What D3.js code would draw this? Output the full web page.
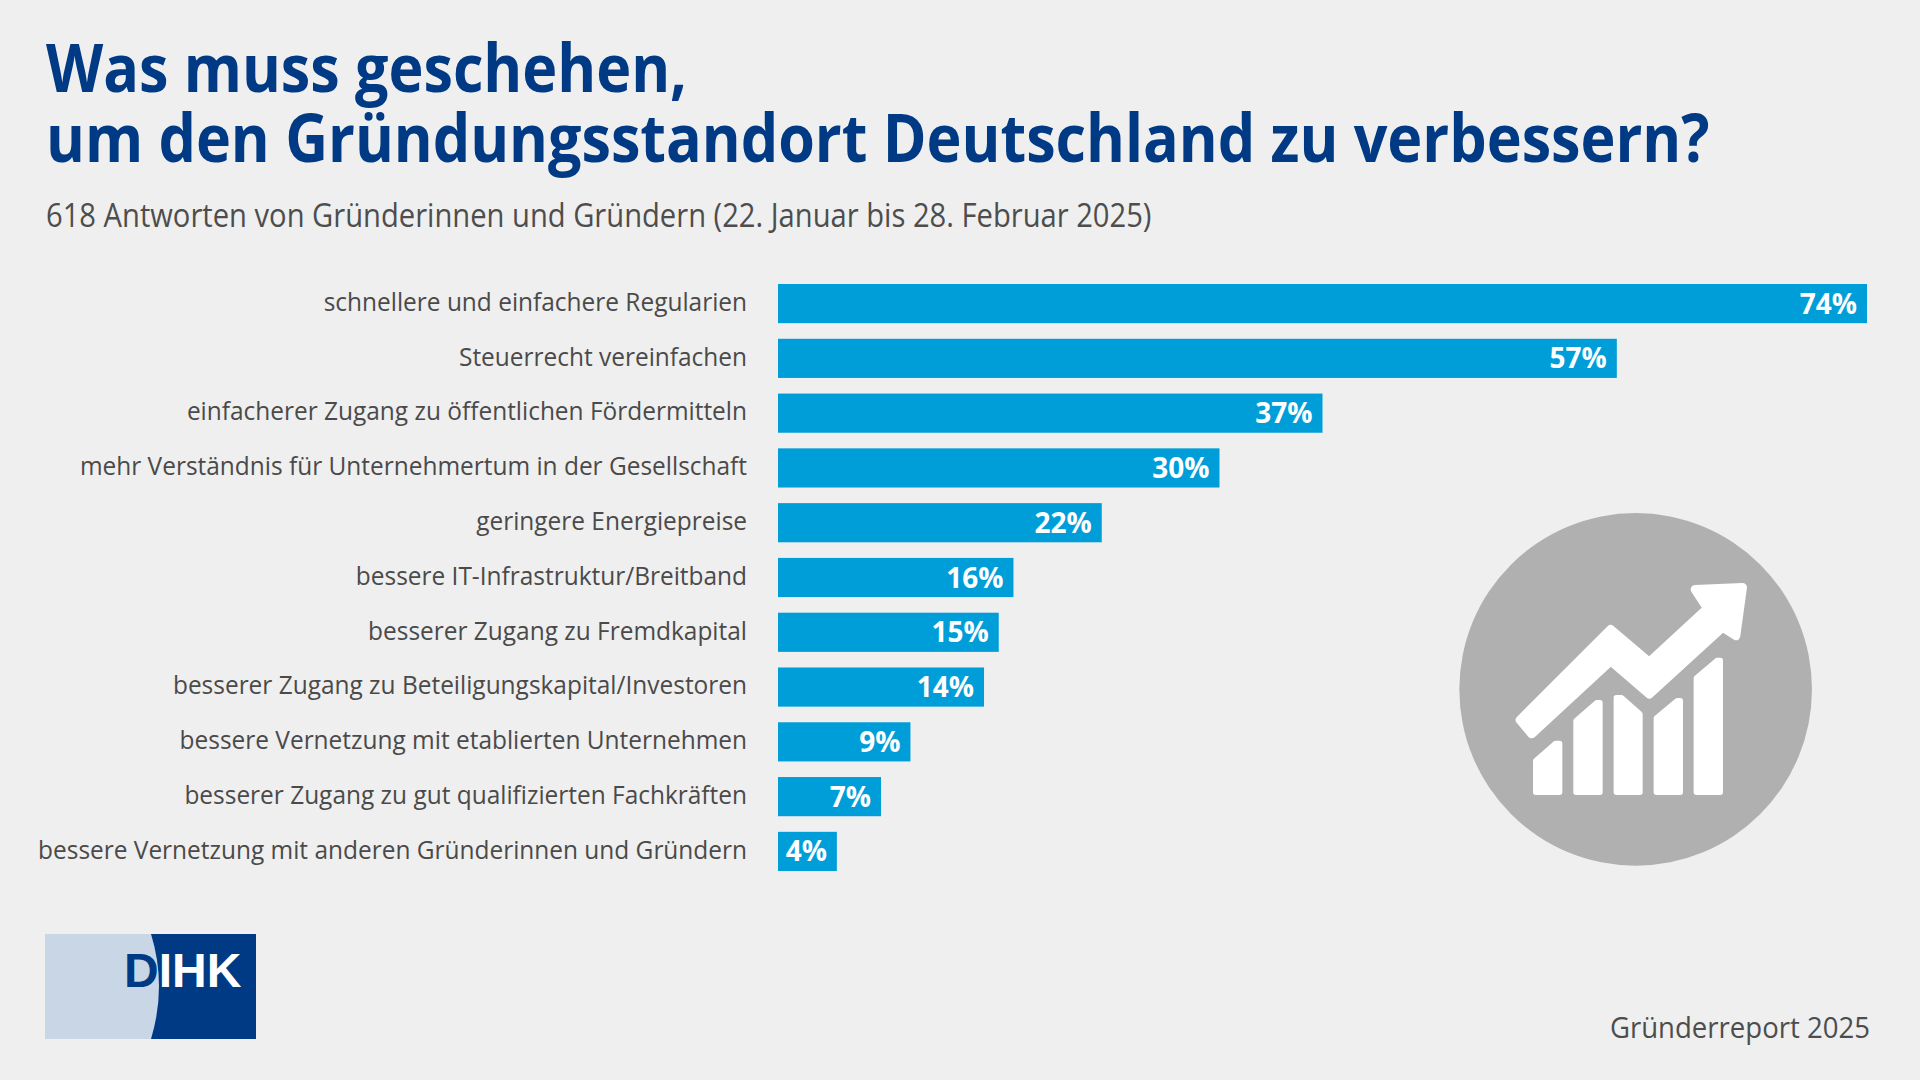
<!DOCTYPE html>
<html lang="de">
<head>
<meta charset="utf-8">
<script src="https://cdn.jsdelivr.net/npm/d3@7"></script>
<style>
  html, body { margin: 0; padding: 0; background: #efefef; }
  text { font-family: "Open Sans", sans-serif; }
  .title { font-size: 66px; font-weight: 700; fill: #003a84; }
  .subtitle { font-size: 32px; fill: #4d4d4d; }
  .axis text { font-size: 26px; fill: #4a4a4a; }
  .value { font-size: 28px; font-weight: 700; fill: #fff; }
  .source { font-size: 29px; fill: #4d4d4d; }
</style>
</head>
<body>
<script>
var categories = [
  "schnellere und einfachere Regularien",
  "Steuerrecht vereinfachen",
  "einfacherer Zugang zu öffentlichen Fördermitteln",
  "mehr Verständnis für Unternehmertum in der Gesellschaft",
  "geringere Energiepreise",
  "bessere IT-Infrastruktur/Breitband",
  "besserer Zugang zu Fremdkapital",
  "besserer Zugang zu Beteiligungskapital/Investoren",
  "bessere Vernetzung mit etablierten Unternehmen",
  "besserer Zugang zu gut qualifizierten Fachkräften",
  "bessere Vernetzung mit anderen Gründerinnen und Gründern"
];
var values = [74, 57, 37, 30, 22, 16, 15, 14, 9, 7, 4];
var titleLines = ["Was muss geschehen,", "um den Gründungsstandort Deutschland zu verbessern?"];
var subtitle = "618 Antworten von Gründerinnen und Gründern (22. Januar bis 28. Februar 2025)";
var source = "Gründerreport 2025";

var width = 1920, height = 1080;
var svg = d3.select("body").append("svg")
  .attr("width", width)
  .attr("height", height)
  .style("display", "block");

svg.append("rect").attr("width", width).attr("height", height).attr("fill", "#efefef");

// the original typeface is narrower than anything installed, so squeeze the glyphs
function narrow(selection, factor) {
  selection.each(function() {
    d3.select(this)
      .attr("textLength", this.getComputedTextLength()*factor)
      .attr("lengthAdjust", "spacingAndGlyphs");
  });
}

// title block
svg.selectAll(".title")
  .data(titleLines)
  .enter().append("text")
  .attr("class", "title")
  .attr("x", 46)
  .attr("y", function(d, i) { return 92 + i*70; })
  .text(function(d) { return d; })
  .call(narrow, 0.897);

svg.append("text")
  .attr("class", "subtitle")
  .attr("x", 46)
  .attr("y", 227)
  .text(subtitle)
  .call(narrow, 0.911);

// scales
var xScale = d3.scaleLinear()
  .domain([0, 74])
  .range([778, 1867]);

var yScale = d3.scaleBand()
  .domain(categories)
  .range([284, 871])
  .paddingInner(0.285)
  .paddingOuter(0);

// category labels
var yAxis = svg.append("g")
  .attr("class", "axis")
  .attr("transform", "translate(747, -1)")
  .call(d3.axisLeft(yScale).tickSize(0).tickPadding(0));
yAxis.select(".domain").remove();
yAxis.selectAll("text").call(narrow, 0.94);

// bars
svg.selectAll(".bar")
  .data(values)
  .enter().append("rect")
  .attr("class", "bar")
  .attr("x", xScale(0))
  .attr("y", function(d, i) { return yScale(categories[i]); })
  .attr("width", function(d) { return xScale(d) - xScale(0); })
  .attr("height", yScale.bandwidth())
  .attr("fill", "#009ed8");

svg.selectAll(".value")
  .data(values)
  .enter().append("text")
  .attr("class", "value")
  .attr("x", function(d) { return xScale(d) - 10; })
  .attr("y", function(d, i) { return yScale(categories[i]) + yScale.bandwidth()/2 + 10; })
  .attr("text-anchor", "end")
  .text(function(d) { return d + "%"; });

// growth icon, path points in 3x crop units
var icon = svg.append("g").attr("transform", "translate(1440, 500) scale(0.3333)");
icon.append("circle").attr("cx", 587).attr("cy", 568).attr("r", 529).attr("fill", "#b0b0b0");
var iconShapes = [
  "M240,660 L512,388 L628,486 L802,325 L765,268 L908,262 L888,408 L848,382 L628,583 L512,483 L275,702 Z",
  "M287,782 L347,730 L359,730 L359,877 L287,877 Z",
  "M408,662 L470,608 L480,608 L480,877 L408,877 Z",
  "M529,593 L545,593 L600,642 L600,877 L529,877 Z",
  "M649,654 L712,602 L721,602 L721,877 L649,877 Z",
  "M769,534 L832,481 L841,481 L841,877 L769,877 Z"
];
icon.selectAll("path")
  .data(iconShapes)
  .enter().append("path")
  .attr("d", function(d) { return d; })
  .attr("fill", "#fff")
  .attr("stroke", "#fff")
  .attr("stroke-width", function(d, i) { return i == 0 ? 26 : 16; })
  .attr("stroke-linejoin", "round");

// logo
var logo = svg.append("g");
logo.append("rect").attr("x", 45).attr("y", 934).attr("width", 211).attr("height", 105).attr("fill", "#003a84");
logo.append("path")
  .attr("d", "M45,934 L151,934 Q167,986 151,1039 L45,1039 Z")
  .attr("fill", "#c9d6e6");
logo.append("text")
  .attr("x", 124)
  .attr("y", 987)
  .style("font-family", "'Liberation Sans', sans-serif")
  .style("font-size", "48px")
  .style("font-weight", 700)
  .attr("fill", "#fff")
  .html('<tspan fill="#003a84">D</tspan>IHK');

svg.append("text")
  .attr("class", "source")
  .attr("x", 1870)
  .attr("y", 1038)
  .attr("text-anchor", "end")
  .text(source)
  .call(narrow, 0.95);
</script>
</body>
</html>
